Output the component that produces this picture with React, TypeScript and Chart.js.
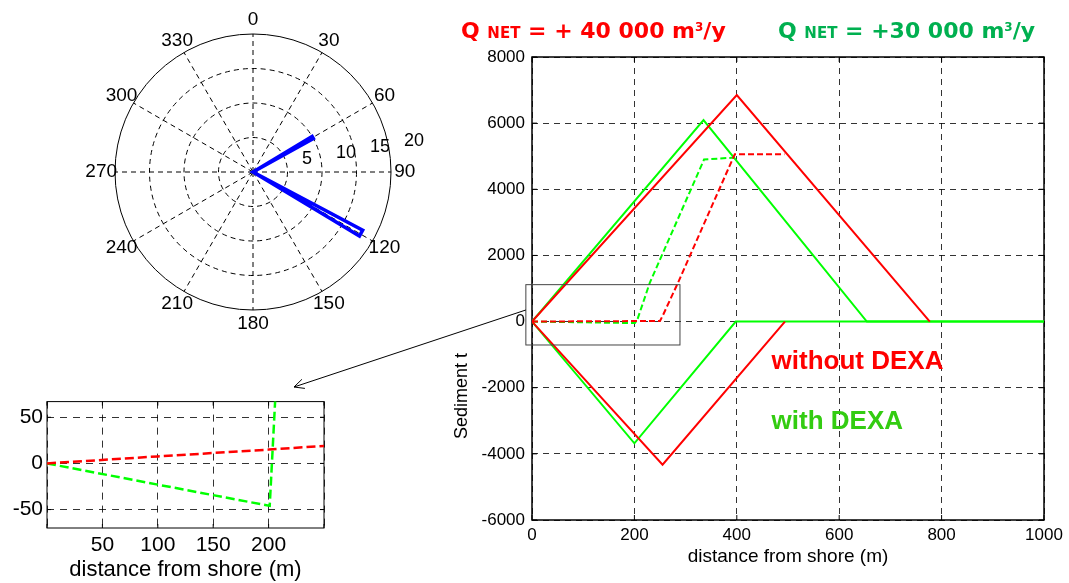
import React, { useEffect, useRef } from 'react';
import { Chart, registerables } from 'chart.js';

Chart.register(...registerables);

const FONT = '"Liberation Sans", Arial, Helvetica, sans-serif';
const TITLE_FONT = '"DejaVu Sans", "Liberation Sans", sans-serif';
const RED = '#ff0000';
const GREEN = '#00ff00';

// ---------- Polar (rose) plot ----------
const polarAngleLabels = ['0', '30', '60', '90', '120', '150', '180', '210', '240', '270', '300', '330'];
const polarRadialTicks = [5, 10, 15, 20];
const roseBinStart = [59, 118];
const roseBinEnd = [61, 121];
const roseCounts = [10, 18];

// ---------- Main chart ----------
const mainXTicks = [0, 200, 400, 600, 800, 1000];
const mainYTicks = [-6000, -4000, -2000, 0, 2000, 4000, 6000, 8000];

const redUpperX = [0, 400, 777];
const redUpperY = [0, 6850, 0];
const redLowerX = [0, 255, 494];
const redLowerY = [0, -4330, 0];
const greenUpperX = [0, 335, 654, 1000];
const greenUpperY = [0, 6090, 0, 0];
const greenLowerX = [0, 200, 398, 1000];
const greenLowerY = [0, -3680, 0, 0];
const redDashX = [0, 100, 200, 250, 256, 285, 396, 493];
const redDashY = [0, 7.6, 15, 19, 200, 1170, 5060, 5060];
const greenDashX = [0, 100, 201, 206, 230, 336, 396];
const greenDashY = [0, -23, -46, 70, 1170, 4900, 4960];

// ---------- Inset ----------
const insetXTicks = [0, 50, 100, 150, 200, 250];
const insetXLabelled = [50, 100, 150, 200];
const insetYTicks = [-50, 0, 50];

// ---------- Texts ----------
const titleRedParts = ['Q ', 'NET', ' = + 40 000 m', '3', '/y'];
const titleGreenParts = ['Q ', 'NET', ' = +30 000 m', '3', '/y'];
const legendWithout = 'without DEXA';
const legendWith = 'with DEXA';
const mainYTitle = 'Sediment t';
const xTitle = 'distance from shore (m)';

const series = (xs: number[], ys: number[]) => xs.map((x, i) => ({ x, y: ys[i] }));

const framePlugin = (lw: number, tl: number) => ({
  id: 'frame',
  beforeDatasetsDraw(chart: any) {
    const { ctx, chartArea: a, scales } = chart;
    ctx.save();
    ctx.setLineDash([]);
    ctx.strokeStyle = '#000';
    ctx.lineWidth = 1;
    ctx.beginPath();
    scales.x.ticks.forEach((t: any) => {
      const p = scales.x.getPixelForValue(t.value);
      ctx.moveTo(p, a.bottom); ctx.lineTo(p, a.bottom - tl);
      ctx.moveTo(p, a.top); ctx.lineTo(p, a.top + tl);
    });
    scales.y.ticks.forEach((t: any) => {
      const p = scales.y.getPixelForValue(t.value);
      ctx.moveTo(a.left, p); ctx.lineTo(a.left + tl, p);
      ctx.moveTo(a.right, p); ctx.lineTo(a.right - tl, p);
    });
    ctx.stroke();
    ctx.lineWidth = lw;
    ctx.strokeRect(a.left, a.top, a.right - a.left, a.bottom - a.top);
    ctx.restore();
  },
});

const drawParts = (ctx: any, parts: string[], x: number, y: number, color: string) => {
  const sizes = [22, 15, 22, 12, 22];
  const dys = [0, 0, 0, -7, 0];
  let cx = x;
  ctx.fillStyle = color;
  ctx.textAlign = 'left';
  ctx.textBaseline = 'alphabetic';
  parts.forEach((p, i) => {
    ctx.font = `bold ${sizes[i]}px ${TITLE_FONT}`;
    ctx.fillText(p, cx, y + dys[i]);
    cx += ctx.measureText(p).width;
  });
};

const MAIN_LEFT = 270;

const mainDecor = {
  id: 'mainDecor',
  afterDraw(chart: any) {
    const { ctx, scales } = chart;
    const xs = scales.x;
    const ys = scales.y;
    ctx.save();
    // zoom box
    ctx.setLineDash([]);
    ctx.strokeStyle = '#444';
    ctx.lineWidth = 1;
    const bx1 = xs.getPixelForValue(-12), bx2 = xs.getPixelForValue(289);
    const by1 = ys.getPixelForValue(1116), by2 = ys.getPixelForValue(-708);
    ctx.strokeRect(bx1, by1, bx2 - bx1, by2 - by1);
    // arrow
    const sx = bx1, sy = ys.getPixelForValue(350);
    const tx = 294 - MAIN_LEFT, ty = 387;
    ctx.strokeStyle = '#000';
    ctx.beginPath();
    ctx.moveTo(sx, sy); ctx.lineTo(tx, ty);
    const ang = Math.atan2(sy - ty, sx - tx);
    const hl = 11, ha = 0.45;
    ctx.moveTo(tx + hl * Math.cos(ang + ha), ty + hl * Math.sin(ang + ha));
    ctx.lineTo(tx, ty);
    ctx.lineTo(tx + hl * Math.cos(ang - ha), ty + hl * Math.sin(ang - ha));
    ctx.stroke();
    // legend texts
    ctx.font = `bold 26px ${FONT}`;
    ctx.textAlign = 'left';
    ctx.textBaseline = 'alphabetic';
    ctx.fillStyle = RED;
    ctx.fillText(legendWithout, xs.getPixelForValue(468), ys.getPixelForValue(-1433));
    ctx.fillStyle = '#33cc11';
    ctx.fillText(legendWith, xs.getPixelForValue(468), ys.getPixelForValue(-3250));
    // titles
    drawParts(ctx, titleRedParts, 461 - MAIN_LEFT, 38, RED);
    drawParts(ctx, titleGreenParts, 778 - MAIN_LEFT, 38, '#00b050');
    // y title
    ctx.translate(462 - MAIN_LEFT, 396);
    ctx.rotate(-Math.PI / 2);
    ctx.font = `18px ${FONT}`;
    ctx.fillStyle = '#000';
    ctx.textAlign = 'center';
    ctx.textBaseline = 'middle';
    ctx.fillText(mainYTitle, 0, 0);
    ctx.restore();
  },
};

const polarDecor = {
  id: 'polarDecor',
  afterDraw(chart: any) {
    const s = chart.scales.r;
    const ctx = chart.ctx;
    ctx.save();
    ctx.fillStyle = '#000';
    // angle labels, centred just outside the outer ring
    ctx.font = `19px ${FONT}`;
    ctx.textAlign = 'center';
    ctx.textBaseline = 'middle';
    polarAngleLabels.forEach((lab, k) => {
      const p = s.getPointPosition(k * 30, s.drawingArea * 1.1);
      ctx.fillText(lab, p.x, p.y);
    });
    // radial labels
    ctx.font = `18px ${FONT}`;
    ctx.textAlign = 'left';
    ctx.textBaseline = 'alphabetic';
    polarRadialTicks.forEach((v) => {
      const p = s.getPointPositionForValue(80, v);
      ctx.fillText(String(v), p.x + 15, p.y - 2);
    });
    ctx.restore();
  },
};

export default function App() {
  const polarRef = useRef<HTMLCanvasElement>(null);
  const mainRef = useRef<HTMLCanvasElement>(null);
  const insetRef = useRef<HTMLCanvasElement>(null);

  useEffect(() => {
    const charts: Chart[] = [];

    // ----- polar -----
    const labels360 = Array.from({ length: 360 }, (_, i) => (i % 30 === 0 ? polarAngleLabels[i / 30] : ''));
    const roseData: (number | null)[] = Array.from({ length: 360 }, () => 0);
    roseBinStart.forEach((a, k) => {
      const b = roseBinEnd[k];
      for (let d = a; d <= b; d++) roseData[d] = d === a || d === b ? roseCounts[k] : null;
    });
    charts.push(
      new Chart(polarRef.current as HTMLCanvasElement, {
        type: 'radar',
        data: {
          labels: labels360,
          datasets: [
            {
              data: roseData as any,
              borderColor: '#0000ff',
              borderWidth: 3.5,
              backgroundColor: 'transparent',
              fill: false,
              pointRadius: 0,
              spanGaps: true,
              tension: 0,
            },
          ],
        },
        options: {
          animation: false,
          responsive: false,
          devicePixelRatio: 1,
          layout: { padding: { left: 55, top: 34, right: 59, bottom: 35 } },
          plugins: { legend: { display: false }, tooltip: { enabled: false } },
          scales: {
            r: {
              min: 0,
              max: 20,
              ticks: { display: false, stepSize: 5 },
              grid: { circular: true, color: '#000', lineWidth: 1 },
              border: { dash: (c: any) => (c.tick && c.tick.value === 20 ? [] : [5, 4]) } as any,
              angleLines: {
                color: '#000',
                lineWidth: (c: any) => (c.index % 30 === 0 ? 1 : 0),
                borderDash: [5, 4],
              },
              pointLabels: { display: false },
            },
          },
        },
        plugins: [polarDecor],
      } as any)
    );

    // ----- main -----
    const common = { pointRadius: 0, fill: false, tension: 0, borderWidth: 2 };
    charts.push(
      new Chart(mainRef.current as HTMLCanvasElement, {
        type: 'line',
        data: {
          datasets: [
            { ...common, data: series(redUpperX, redUpperY), borderColor: RED },
            { ...common, data: series(redLowerX, redLowerY), borderColor: RED },
            { ...common, data: series(redDashX, redDashY), borderColor: RED, borderDash: [6, 3] },
            { ...common, data: series(greenDashX, greenDashY), borderColor: GREEN, borderDash: [6, 3] },
            { ...common, data: series(greenUpperX, greenUpperY), borderColor: GREEN },
            { ...common, data: series(greenLowerX, greenLowerY), borderColor: GREEN },
          ],
        },
        options: {
          animation: false,
          responsive: false,
          devicePixelRatio: 1,
          layout: { padding: { top: 57, right: 25, bottom: 15, left: 0 } },
          plugins: { legend: { display: false }, tooltip: { enabled: false } },
          scales: {
            x: {
              type: 'linear',
              min: 0,
              max: 1000,
              afterBuildTicks: (s: any) => { s.ticks = mainXTicks.map((v) => ({ value: v })); },
              afterFit: (s: any) => { s.height = 48; },
              ticks: { callback: (v: any) => String(v), font: { family: FONT, size: 17 }, color: '#000', padding: 5, maxRotation: 0, autoSkip: false },
              grid: { color: 'rgba(0,0,0,0.8)', lineWidth: 1, drawTicks: false },
              border: { display: false, dash: [6, 5] },
              title: { display: true, text: xTitle, font: { family: FONT, size: 19 }, color: '#000', padding: 0 },
            },
            y: {
              type: 'linear',
              min: -6000,
              max: 8000,
              afterBuildTicks: (s: any) => { s.ticks = mainYTicks.map((v) => ({ value: v })); },
              afterFit: (s: any) => { s.width = 262; },
              ticks: { callback: (v: any) => String(v), font: { family: FONT, size: 17 }, color: '#000', padding: 7, autoSkip: false },
              grid: { color: 'rgba(0,0,0,0.8)', lineWidth: 1, drawTicks: false },
              border: { display: false, dash: [6, 5] },
            },
          },
        },
        plugins: [framePlugin(1.5, 5), mainDecor],
      } as any)
    );

    // ----- inset -----
    const insetCommon = { pointRadius: 0, fill: false, tension: 0, borderWidth: 2.5, borderDash: [9, 4] };
    charts.push(
      new Chart(insetRef.current as HTMLCanvasElement, {
        type: 'line',
        data: {
          datasets: [
            { ...insetCommon, data: series(redDashX, redDashY), borderColor: RED },
            { ...insetCommon, data: series(greenDashX, greenDashY), borderColor: GREEN },
          ],
        },
        options: {
          animation: false,
          responsive: false,
          devicePixelRatio: 1,
          layout: { padding: { top: 14, right: 16, bottom: 0, left: 0 } },
          plugins: { legend: { display: false }, tooltip: { enabled: false } },
          scales: {
            x: {
              type: 'linear',
              min: 0,
              max: 250,
              afterBuildTicks: (s: any) => { s.ticks = insetXTicks.map((v) => ({ value: v })); },
              afterFit: (s: any) => { s.height = 55; },
              ticks: {
                callback: (v: any) => (insetXLabelled.includes(v) ? String(v) : ''),
                font: { family: FONT, size: 21 }, color: '#000', padding: 5, maxRotation: 0, autoSkip: false,
              },
              grid: { color: 'rgba(0,0,0,0.8)', lineWidth: 1, drawTicks: false },
              border: { display: false, dash: [7, 6] },
              title: { display: true, text: xTitle, font: { family: FONT, size: 22 }, color: '#000', padding: 0 },
            },
            y: {
              type: 'linear',
              min: -70,
              max: 67,
              afterBuildTicks: (s: any) => { s.ticks = insetYTicks.map((v) => ({ value: v })); },
              afterFit: (s: any) => { s.width = 47; },
              ticks: { callback: (v: any) => String(v), font: { family: FONT, size: 21 }, color: '#000', padding: 4, autoSkip: false },
              grid: { color: 'rgba(0,0,0,0.8)', lineWidth: 1, drawTicks: false },
              border: { display: false, dash: [7, 6] },
            },
          },
        },
        plugins: [framePlugin(1, 4)],
      } as any)
    );

    return () => charts.forEach((c) => c.destroy());
  }, []);

  return (
    <div style={{ position: 'absolute', left: 0, top: 0, width: 1069, height: 583, background: '#fff', overflow: 'hidden' }}>
      <canvas ref={mainRef} width={799} height={583} style={{ position: 'absolute', left: MAIN_LEFT, top: 0, width: 799, height: 583 }} />
      <canvas ref={insetRef} width={340} height={198} style={{ position: 'absolute', left: 0, top: 385, width: 340, height: 198 }} />
      <canvas ref={polarRef} width={390} height={345} style={{ position: 'absolute', left: 60, top: 0, width: 390, height: 345 }} />
    </div>
  );
}
